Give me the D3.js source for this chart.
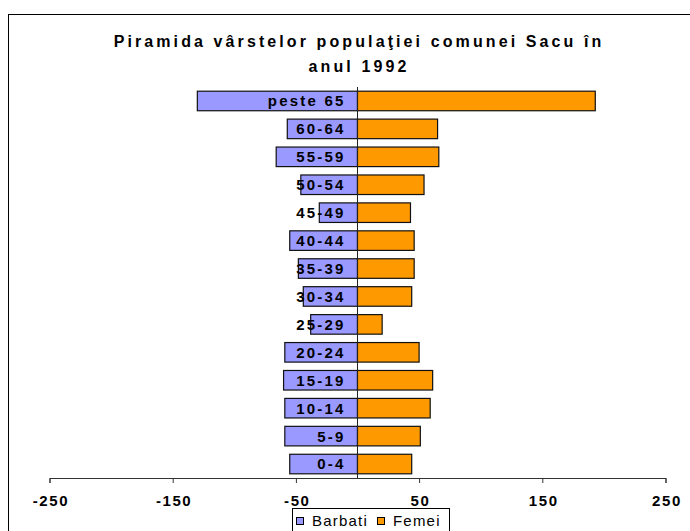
<!DOCTYPE html>
<html>
<head>
<meta charset="utf-8" />
<title>Piramida varstelor</title>
<script src="https://d3js.org/d3.v7.min.js"></script>
<style>
    body { margin: 0; background: #fff; }
    svg { display: block; font-family: Arial, "Liberation Sans", sans-serif; }
    .title { font-weight: bold; font-size: 16px; letter-spacing: 3.1px; }
    .cat { font-weight: bold; font-size: 15px; letter-spacing: 2.2px; }
    .tick text { font-weight: bold; font-size: 15px; letter-spacing: 1.6px; }
    .leg { font-size: 15px; letter-spacing: 1.2px; }
</style>
</head>
<body>
<div id="holder"></div>
<script>
    //Data (bottom to top, like the original chart)
    const grupe = ["0-4", "5-9", "10-14", "15-19", "20-24", "25-29", "30-34", "35-39", "40-44", "45-49", "50-54", "55-59", "60-64", "peste 65"];
    const barbati = [55, 59, 59, 60, 59, 38, 44, 48, 55, 31, 46, 66, 57, 130];
    const femei = [44, 51, 59, 61, 50, 20, 44, 46, 46, 43, 54, 66, 65, 193];
    const xTicks = [-250, -150, -50, 50, 150, 250];
    const titlu = ["Piramida vârstelor populaţiei comunei Sacu în", "anul 1992"];
    const serii = ["Barbati", "Femei"];

    //Variables
    const w = 690;
    const h = 531;
    const culori = ["#9999ff", "#ff9900"];

    let svg = d3.select("#holder")
        .append("svg")
        .attr("width", w)
        .attr("height", h);

    //chart frame (runs off the right and bottom edge)
    svg.append("rect")
        .attr("x", 8.5)
        .attr("y", 14.5)
        .attr("width", 760)
        .attr("height", 600)
        .attr("fill", "none")
        .attr("stroke", "#000");

    //Title
    svg.selectAll(".title")
        .data(titlu)
        .enter()
        .append("text")
        .attr("class", "title")
        .attr("x", 359)
        .attr("y", (d, i) => 47 + i * 25)
        .attr("text-anchor", "middle")
        .text(d => d);

    //Scales
    let xScale = d3.scaleLinear()
        .domain([-250, 250])
        .range([49.5, 665.5]);

    let yScale = d3.scaleBand()
        .domain(grupe)
        .range([478, 87])
        .paddingInner(0.3)
        .paddingOuter(0.15);

    let rows = grupe.map((g, i) => ({g: g, b: barbati[i], f: femei[i]}));

    //Bars - men to the left
    svg.selectAll(".barb")
        .data(rows)
        .enter()
        .append("rect")
        .attr("class", "barb")
        .attr("x", d => xScale(-d.b))
        .attr("y", d => yScale(d.g))
        .attr("width", d => xScale(0) - xScale(-d.b))
        .attr("height", yScale.bandwidth())
        .attr("fill", culori[0])
        .attr("stroke", "#111")
        .attr("stroke-width", 1.2);

    //women to the right
    svg.selectAll(".fem")
        .data(rows)
        .enter()
        .append("rect")
        .attr("class", "fem")
        .attr("x", xScale(0))
        .attr("y", d => yScale(d.g))
        .attr("width", d => xScale(d.f) - xScale(0))
        .attr("height", yScale.bandwidth())
        .attr("fill", culori[1])
        .attr("stroke", "#111")
        .attr("stroke-width", 1.2);

    //Axes
    const xAxis = d3.axisBottom(xScale)
        .tickValues(xTicks)
        .tickFormat(d => String(d))
        .tickSizeOuter(0)
        .tickSize(5)
        .tickPadding(12);
    let gx = svg.append("g")
        .attr("transform", "translate(0, 478)")
        .attr("id", "x-axis")
        .call(xAxis);
    gx.select(".domain").attr("stroke", "#333");
    gx.selectAll(".tick line").attr("stroke", "#333");
    gx.selectAll(".tick text").attr("fill", "#000").attr("dx", "0.06em");

    //zero line (category axis)
    svg.append("line")
        .attr("x1", xScale(0))
        .attr("x2", xScale(0))
        .attr("y1", 87)
        .attr("y2", 478)
        .attr("stroke", "#222")
        .attr("stroke-width", 1);

    //category labels, drawn over the men's bars
    svg.selectAll(".cat")
        .data(grupe)
        .enter()
        .append("text")
        .attr("class", "cat")
        .attr("x", xScale(0) - 12)
        .attr("y", d => yScale(d) + yScale.bandwidth() / 2)
        .attr("dy", "0.36em")
        .attr("text-anchor", "end")
        .text(d => d);

    //Legend
    let leg = svg.append("g").attr("transform", "translate(292, 508)");
    leg.append("rect")
        .attr("x", 0.5)
        .attr("y", 0.5)
        .attr("width", 157)
        .attr("height", 40)
        .attr("fill", "#fff")
        .attr("stroke", "#000");
    const legX = [4, 85];
    serii.forEach((s, i) => {
        leg.append("rect")
            .attr("x", legX[i] + 0.5)
            .attr("y", 9.5)
            .attr("width", 7)
            .attr("height", 7)
            .attr("fill", culori[i])
            .attr("stroke", "#000");
        leg.append("text")
            .attr("class", "leg")
            .attr("x", legX[i] + 16)
            .attr("y", 18)
            .text(s);
    });
</script>
</body>
</html>
